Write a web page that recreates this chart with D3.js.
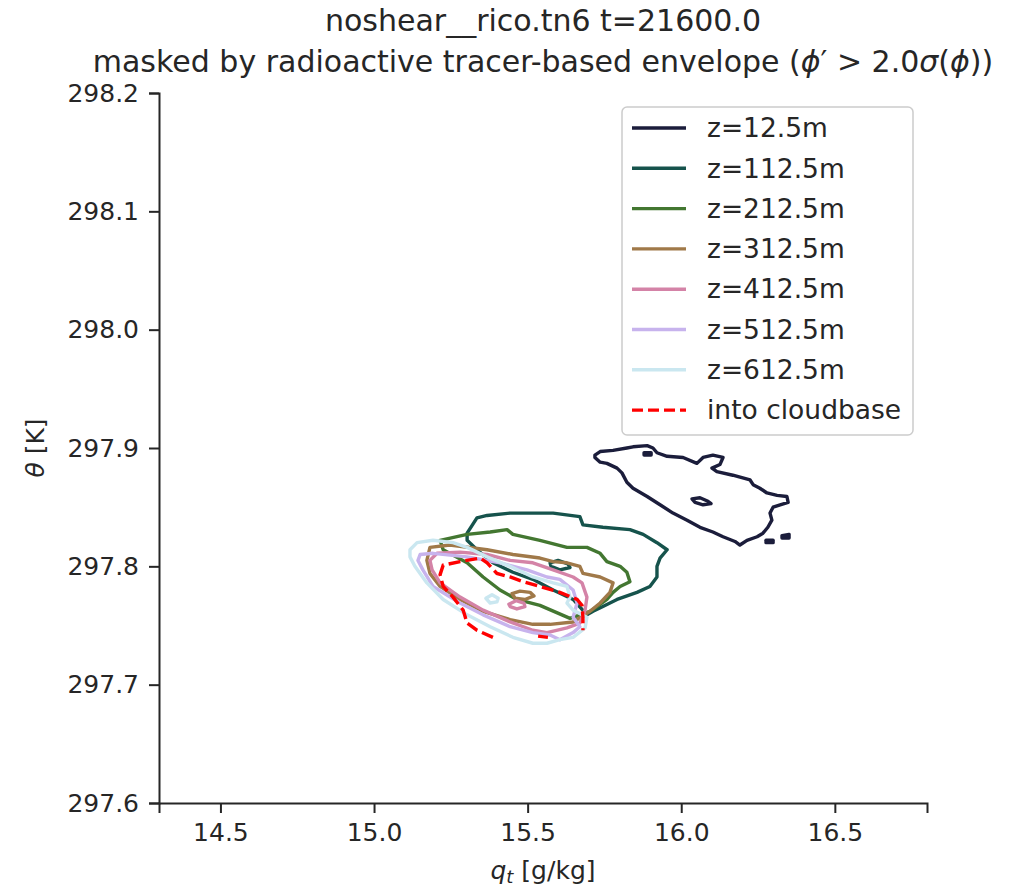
<!DOCTYPE html>
<html>
<head>
<meta charset="utf-8">
<script src="https://cdn.jsdelivr.net/npm/d3@7"></script>
<style>
  body { margin: 0; background: #fff; }
  svg { font-family: "DejaVu Sans", sans-serif; }
</style>
</head>
<body>
<svg width="1036" height="891"></svg>
<script>
// contour rings per height level: [qt g/kg, theta K]
const labels = ["z=12.5m", "z=112.5m", "z=212.5m", "z=312.5m", "z=412.5m", "z=512.5m", "z=612.5m"];

const z12 = [
  [[15.719,297.894],[15.736,297.897],[15.778,297.898],[15.823,297.900],[15.843,297.901],[15.889,297.902],[15.908,297.900],[15.921,297.896],[15.954,297.893],[16.006,297.892],[16.051,297.887],[16.071,297.892],[16.103,297.894],[16.136,297.892],[16.126,297.886],[16.100,297.883],[16.116,297.880],[16.168,297.877],[16.224,297.873],[16.234,297.869],[16.256,297.866],[16.279,297.862],[16.312,297.860],[16.344,297.859],[16.348,297.854],[16.322,297.852],[16.299,297.850],[16.289,297.845],[16.295,297.839],[16.282,297.833],[16.266,297.828],[16.247,297.825],[16.214,297.822],[16.191,297.818],[16.175,297.821],[16.136,297.825],[16.103,297.829],[16.061,297.833],[16.019,297.839],[15.973,297.845],[15.931,297.852],[15.889,297.859],[15.843,297.866],[15.823,297.871],[15.807,297.879],[15.791,297.883],[15.758,297.887],[15.736,297.888],[15.719,297.892]],
  [[16.035,297.857],[16.061,297.858],[16.087,297.855],[16.097,297.853],[16.071,297.852],[16.045,297.854]],
  [[15.879,297.896],[15.902,297.896],[15.902,297.894],[15.879,297.894]],
  [[16.276,297.822],[16.299,297.822],[16.299,297.820],[16.276,297.820]],
  [[16.328,297.826],[16.351,297.827],[16.351,297.824],[16.328,297.824]]
];
const z112 = [
  [[15.303,297.828],[15.335,297.841],[15.368,297.843],[15.443,297.845],[15.517,297.845],[15.583,297.845],[15.670,297.842],[15.680,297.835],[15.745,297.833],[15.833,297.831],[15.876,297.827],[15.921,297.820],[15.954,297.814],[15.931,297.807],[15.921,297.800],[15.921,297.791],[15.898,297.783],[15.856,297.778],[15.791,297.772],[15.745,297.766],[15.713,297.762],[15.693,297.759],[15.648,297.772],[15.583,297.780],[15.517,297.789],[15.452,297.795],[15.387,297.803],[15.335,297.814],[15.303,297.822]],
  [[15.573,297.803],[15.599,297.805],[15.631,297.802],[15.638,297.799],[15.605,297.797],[15.576,297.800]]
];
const z212 = [
  [[15.215,297.822],[15.303,297.827],[15.378,297.829],[15.433,297.831],[15.452,297.827],[15.540,297.822],[15.628,297.816],[15.693,297.816],[15.736,297.811],[15.758,297.804],[15.801,297.800],[15.823,297.795],[15.833,297.787],[15.801,297.783],[15.778,297.778],[15.758,297.772],[15.726,297.766],[15.703,297.762],[15.638,297.756],[15.540,297.767],[15.465,297.772],[15.410,297.780],[15.355,297.791],[15.303,297.803],[15.225,297.814]]
];
const z312 = [
  [[15.182,297.816],[15.247,297.818],[15.368,297.814],[15.452,297.810],[15.540,297.807],[15.583,297.804],[15.628,297.803],[15.670,297.800],[15.680,297.794],[15.736,297.791],[15.778,297.786],[15.768,297.778],[15.736,297.769],[15.703,297.762],[15.648,297.753],[15.573,297.751],[15.517,297.751],[15.443,297.755],[15.355,297.762],[15.280,297.772],[15.215,297.783],[15.182,297.794],[15.172,297.805]],
  [[15.449,297.777],[15.475,297.779],[15.508,297.778],[15.521,297.775],[15.491,297.772],[15.459,297.773]]
];
const z412 = [
  [[15.182,297.805],[15.205,297.811],[15.280,297.812],[15.368,297.810],[15.443,297.805],[15.517,297.803],[15.583,297.797],[15.648,297.791],[15.677,297.786],[15.693,297.774],[15.687,297.763],[15.670,297.752],[15.628,297.748],[15.563,297.744],[15.517,297.746],[15.443,297.753],[15.355,297.763],[15.280,297.774],[15.215,297.786],[15.189,297.797]],
  [[15.439,297.768],[15.462,297.771],[15.488,297.769],[15.491,297.766],[15.465,297.764],[15.443,297.766]]
];
const z512 = [
  [[15.143,297.805],[15.150,297.810],[15.192,297.811],[15.303,297.808],[15.410,297.803],[15.498,297.797],[15.563,297.791],[15.605,297.789],[15.648,297.780],[15.661,297.769],[15.648,297.757],[15.670,297.749],[15.648,297.744],[15.605,297.738],[15.573,297.742],[15.517,297.744],[15.443,297.749],[15.355,297.759],[15.280,297.769],[15.192,297.783],[15.159,297.797]]
];
const z612 = [
  [[15.117,297.814],[15.140,297.820],[15.192,297.822],[15.257,297.820],[15.303,297.816],[15.368,297.808],[15.443,297.800],[15.517,297.791],[15.583,297.786],[15.628,297.783],[15.638,297.774],[15.628,297.769],[15.648,297.763],[15.693,297.757],[15.687,297.748],[15.648,297.740],[15.605,297.738],[15.563,297.735],[15.517,297.735],[15.452,297.740],[15.378,297.749],[15.303,297.759],[15.225,297.772],[15.172,297.786],[15.133,297.800],[15.117,297.808]],
  [[15.364,297.773],[15.384,297.776],[15.404,297.773],[15.400,297.770],[15.378,297.769]]
];
// the cloudbase contour is open, so its pieces are drawn as plain polylines
const cloudbase = [
  [[15.387,297.740],[15.335,297.746],[15.303,297.752],[15.290,297.763],[15.257,297.774],[15.225,297.783],[15.215,297.793],[15.225,297.801],[15.280,297.804],[15.345,297.807],[15.368,297.803],[15.400,297.794],[15.443,297.791],[15.485,297.787],[15.540,297.783],[15.605,297.778],[15.661,297.772],[15.677,297.767],[15.680,297.757],[15.680,297.746]],
  [[15.534,297.741],[15.566,297.740]]
];

const qtTicks = [14.5, 15.0, 15.5, 16.0, 16.5];
const thetaTicks = [297.6, 297.7, 297.8, 297.9, 298.0, 298.1, 298.2];

const levels = [z12, z112, z212, z312, z412, z512, z612];

let svg = d3.select("svg"),
    marge = {top: 93, bottom: 88, left: 159, right: 109},
    width = +svg.attr("width") - marge.left - marge.right,
    height = +svg.attr("height") - marge.top - marge.bottom;
let ink = "#262626";

let x = d3.scaleLinear().domain([14.3, 16.8]).range([0, width]);
let y = d3.scaleLinear().domain([297.6, 298.2]).range([height, 0]);

// cubehelix colours like the matplotlib palette
let colors = labels.map(function(d, i) { return d3.interpolateCubehelixDefault((i + 1) / 8); });

let g = svg.append("g")
    .attr("transform", "translate(" + marge.left + "," + marge.top + ")");

let line = d3.line()
    .x(function(d) { return x(d[0]); })
    .y(function(d) { return y(d[1]); });

levels.forEach(function(rings, i) {
    g.append("g")
        .selectAll("path")
        .data(rings)
        .enter()
        .append("path")
        .attr("d", function(d) { return line(d) + "Z"; })
        .attr("fill", "none")
        .attr("stroke", colors[i])
        .attr("stroke-width", 3.4)
        .attr("stroke-linejoin", "round");
});

g.append("g")
    .selectAll("path")
    .data(cloudbase)
    .enter()
    .append("path")
    .attr("d", line)
    .attr("fill", "none")
    .attr("stroke", "red")
    .attr("stroke-width", 3.4)
    .attr("stroke-dasharray", "12,5");

// axes, only left and bottom spines
let xAxis = g.append("g")
    .attr("transform", "translate(0," + height + ")")
    .call(d3.axisBottom(x).tickValues(qtTicks).tickFormat(d3.format(".1f")).tickSize(10).tickPadding(10));
let yAxis = g.append("g")
    .call(d3.axisLeft(y).tickValues(thetaTicks).tickFormat(d3.format(".1f")).tickSize(10).tickPadding(10));
[xAxis, yAxis].forEach(function(a) {
    a.selectAll("path").attr("stroke", ink).attr("stroke-width", 2);
    a.selectAll("line").attr("stroke", ink).attr("stroke-width", 2);
    a.selectAll("text").attr("fill", ink).style("font-size", "25px").style("font-family", "DejaVu Sans");
});

// axis labels
let xl = svg.append("text")
    .attr("x", marge.left + width / 2)
    .attr("y", 879)
    .attr("text-anchor", "middle")
    .attr("fill", ink)
    .style("font-size", "25px");
xl.append("tspan").attr("font-style", "italic").text("q");
xl.append("tspan").attr("font-style", "italic").attr("dy", 4).style("font-size", "18px").text("t");
xl.append("tspan").attr("dy", -4).text(" [g/kg]");

let yl = svg.append("text")
    .attr("transform", "translate(44," + (marge.top + height / 2) + ") rotate(-90)")
    .attr("text-anchor", "middle")
    .attr("fill", ink)
    .style("font-size", "25px");
yl.append("tspan").attr("font-style", "italic").text("θ");
yl.append("tspan").text(" [K]");

// title, two lines
svg.append("text")
    .attr("x", marge.left + width / 2)
    .attr("y", 31)
    .attr("text-anchor", "middle")
    .attr("fill", ink)
    .style("font-size", "30px")
    .text("noshear__rico.tn6 t=21600.0");
let t2 = svg.append("text")
    .attr("x", marge.left + width / 2)
    .attr("y", 72)
    .attr("text-anchor", "middle")
    .attr("fill", ink)
    .style("font-size", "30px");
t2.append("tspan").text("masked by radioactive tracer-based envelope (");
t2.append("tspan").attr("font-style", "italic").text("ϕ");
t2.append("tspan").text("′ > 2.0");
t2.append("tspan").attr("font-style", "italic").text("σ");
t2.append("tspan").text("(");
t2.append("tspan").attr("font-style", "italic").text("ϕ");
t2.append("tspan").text("))");

// legend
let entries = labels.map(function(d, i) { return {label: d, color: colors[i], dash: null}; });
entries.push({label: "into cloudbase", color: "red", dash: "11,5"});

let lg = svg.append("g").attr("transform", "translate(622,107)");
lg.append("rect")
    .attr("width", 291)
    .attr("height", 328)
    .attr("rx", 5)
    .attr("fill", "white")
    .attr("fill-opacity", 0.8)
    .attr("stroke", "#cccccc")
    .attr("stroke-width", 1.5);
let items = lg.selectAll(".item")
    .data(entries)
    .enter()
    .append("g")
    .attr("transform", function(d, i) { return "translate(0," + (21 + i * 40.3) + ")"; });
items.append("line")
    .attr("x1", 10)
    .attr("x2", 64)
    .attr("stroke", function(d) { return d.color; })
    .attr("stroke-width", 3.4)
    .attr("stroke-dasharray", function(d) { return d.dash; });
items.append("text")
    .attr("x", 85)
    .attr("dy", "0.35em")
    .attr("fill", ink)
    .style("font-size", "26.5px")
    .text(function(d) { return d.label; });
</script>
</body>
</html>
